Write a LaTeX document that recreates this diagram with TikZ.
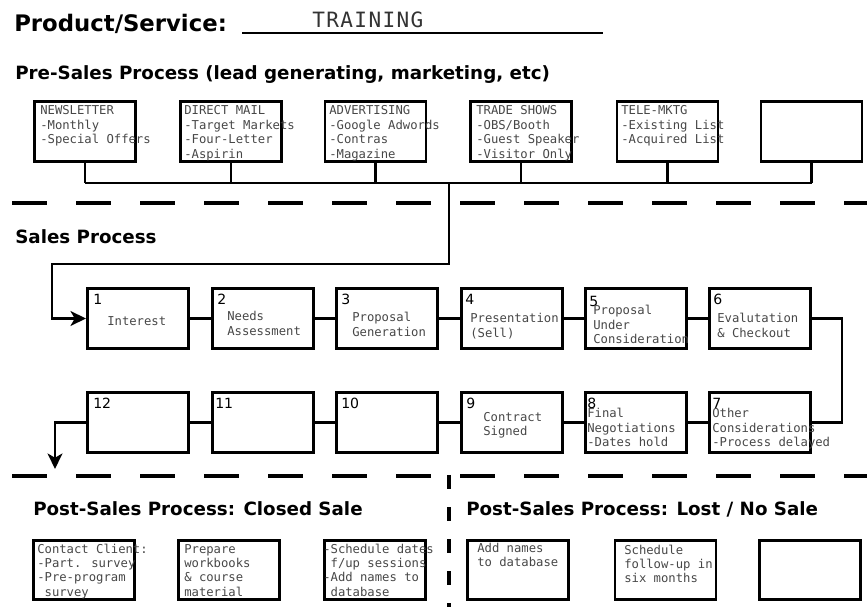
\documentclass[tikz,border=0pt]{standalone}
\usepackage{fontspec}
\setmainfont{DejaVu Sans}
\newfontfamily\boxfont{DejaVu Sans Mono}
\newfontfamily\fillfont[LetterSpace=6.5]{DejaVu Sans Mono}
\usepackage{tikz}
\usetikzlibrary{arrows.meta}
\newcommand\lns[1]{\begin{tabular}[t]{@{}l@{}}#1\end{tabular}}

\begin{document}
\begin{tikzpicture}[
  box/.style={draw,line width=2.1pt,minimum width=2.525cm,minimum height=1.5cm,inner sep=0pt},
  pbox/.style={box,minimum height=1.475cm},
  txt/.style={anchor=base west,inner sep=0pt,text=black!72,font={\boxfont\fontsize{8.7pt}{10.2pt}\selectfont}},
  num/.style={anchor=base west,inner sep=0pt,font={\fontsize{10pt}{12pt}\selectfont}},
  head/.style={anchor=base west,inner sep=0pt,font={\fontsize{13pt}{15pt}\selectfont\bfseries}},
  wire/.style={line width=1.9pt},
  sep/.style={line width=2.3pt,dash pattern=on 0.875cm off 0.725cm},
  tip/.style={-{Stealth[length=11pt,width=10.5pt,inset=3pt]}}
]
\useasboundingbox (0,0) rectangle (21.675,15.15);

\node[head,font={\fontsize{16.2pt}{19pt}\selectfont\bfseries}] (title) at (0.35,14.35) {Product/Service:};
\draw[line width=1.4pt] (6.05,14.325) -- (15.075,14.325);
\node[anchor=base west,inner sep=0pt,text=black!80,font={\fillfont\fontsize{15pt}{18pt}\selectfont}] (prod) at (7.8,14.45) {TRAINING};

\node[head] (pre) at (0.375,13.15) {Pre-Sales Process (lead generating, marketing, etc)};
\node[box] (nl) at (2.125,11.8625)  {};
\node[box] (dm) at (5.775,11.8625)  {};
\node[box] (ad) at (9.3875,11.8625) {};
\node[box] (ts) at (13.025,11.8625) {};
\node[box] (tm) at (16.6875,11.8625) {};
\node[box] (px) at (20.2875,11.8625) {};
\node[txt] (nl-t) at (1.0,12.275)   {\lns{NEWSLETTER\\-Monthly\\-Special Offers}};
\node[txt] (dm-t) at (4.6,12.275)   {\lns{DIRECT MAIL\\-Target Markets\\-Four-Letter\\-Aspirin}};
\node[txt] (ad-t) at (8.225,12.275) {\lns{ADVERTISING\\-Google Adwords\\-Contras\\-Magazine}};
\node[txt] (ts-t) at (11.9,12.275)  {\lns{TRADE SHOWS\\-OBS/Booth\\-Guest Speaker\\-Visitor Only}};
\node[txt] (tm-t) at (15.525,12.275) {\lns{TELE-MKTG\\-Existing List\\-Acquired List}};

\coordinate (bus) at (0,10.575);
\coordinate (drop) at (11.225,10.575);
\foreach \b in {nl,dm,ad,ts,tm,px}
  \draw[wire] (\b.south) -- (\b.south |- bus);
\draw[wire] (nl.south |- bus) -- (px.south |- bus);

\draw[sep] (0.3,10.075) -- (21.8,10.075);

\node[head] (sales) at (0.375,9.05) {Sales Process};
\node[box] (s1) at (3.45,7.1875)  {};
\node[box] (s2) at (6.575,7.1875) {};
\node[box] (s3) at (9.675,7.1875) {};
\node[box] (s4) at (12.8,7.1875)  {};
\node[box] (s5) at (15.9,7.1875)  {};
\node[box] (s6) at (19.0,7.1875)  {};
\node[box] (s12) at (3.45,4.5875)  {};
\node[box] (s11) at (6.575,4.5875) {};
\node[box] (s10) at (9.675,4.5875) {};
\node[box] (s9) at (12.8,4.5875)   {};
\node[box] (s8) at (15.9,4.5875)   {};
\node[box] (s7) at (19.0,4.5875)   {};

\node[num] (n1) at (2.325,7.525)  {1};
\node[num] (n2) at (5.425,7.525)  {2};
\node[num] (n3) at (8.525,7.525)  {3};
\node[num] (n4) at (11.625,7.525) {4};
\node[num] (n5) at (14.725,7.475) {5};
\node[num] (n6) at (17.825,7.525) {6};
\node[num] (n12) at (2.325,4.925) {12};
\node[num] (n11) at (5.375,4.925) {11};
\node[num] (n10) at (8.525,4.925) {10};
\node[num] (n9) at (11.65,4.925)  {9};
\node[num] (n8) at (14.675,4.925) {8};
\node[num] (n7) at (17.8,4.925)   {7};

\node[txt] (s1-t) at (2.675,7.0)   {Interest};
\node[txt] (s2-t) at (5.675,7.125) {\lns{Needs\\Assessment}};
\node[txt] (s3-t) at (8.8,7.1)     {\lns{Proposal\\Generation}};
\node[txt] (s4-t) at (11.75,7.075) {\lns{Presentation\\(Sell)}};
\node[txt] (s5-t) at (14.825,7.275) {\lns{Proposal\\Under\\Consideration}};
\node[txt] (s6-t) at (17.925,7.08) {\lns{Evalutation\\\& Checkout}};
\node[txt] (s9-t) at (12.075,4.61) {\lns{Contract\\Signed}};
\node[txt] (s8-t) at (14.675,4.7)  {\lns{Final\\Negotiations\\-Dates hold}};
\node[txt] (s7-t) at (17.8,4.7)    {\lns{Other\\Considerations\\-Process delayed}};

\coordinate (turn) at (1.3,8.55);
\coordinate (rt) at (21.05,0);
\coordinate (out) at (1.375,3.425);
\draw[wire,tip] (drop) |- (turn) |- (s1.west);
\draw[wire] (s1) -- (s2);
\draw[wire] (s2) -- (s3);
\draw[wire] (s3) -- (s4);
\draw[wire] (s4) -- (s5);
\draw[wire] (s5) -- (s6);
\draw[wire] (s6.east) -- (s6.east -| rt) |- (s7.east);
\draw[wire] (s7) -- (s8);
\draw[wire] (s8) -- (s9);
\draw[wire] (s9) -- (s10);
\draw[wire] (s10) -- (s11);
\draw[wire] (s11) -- (s12);
\draw[wire,tip] (s12.west) -| (out);

\draw[sep] (0.3,3.25) -- (21.8,3.25);
\draw[line width=2.3pt,dash pattern=on 0.35cm off 0.45cm] (11.225,3.275) -- (11.225,-0.2);

\node[head] (won) at (0.825,2.275)  {Post-Sales Process: Closed Sale};
\node[head] (lost) at (11.65,2.275) {Post-Sales Process: Lost / No Sale};
\node[pbox] (w1) at (2.1,0.9)     {};
\node[pbox] (w2) at (5.725,0.9)   {};
\node[pbox] (w3) at (9.375,0.9)   {};
\node[pbox] (l1) at (12.95,0.9)   {};
\node[pbox] (l2) at (16.6375,0.9) {};
\node[pbox] (l3) at (20.25,0.9)   {};
\node[txt] (w1-t) at (0.925,1.325) {\lns{Contact Client:\\-Part. survey\\-Pre-program\\\ survey}};
\node[txt] (w2-t) at (4.6,1.325)   {\lns{Prepare\\workbooks\\\& course\\material}};
\node[txt] (w3-t) at (8.075,1.325) {\lns{-Schedule dates\\\ f/up sessions\\-Add names to\\\ database}};
\node[txt] (l1-t) at (11.925,1.35) {\lns{Add names\\to database}};
\node[txt] (l2-t) at (15.6,1.3)    {\lns{Schedule\\follow-up in\\six months}};
\end{tikzpicture}
\end{document}
